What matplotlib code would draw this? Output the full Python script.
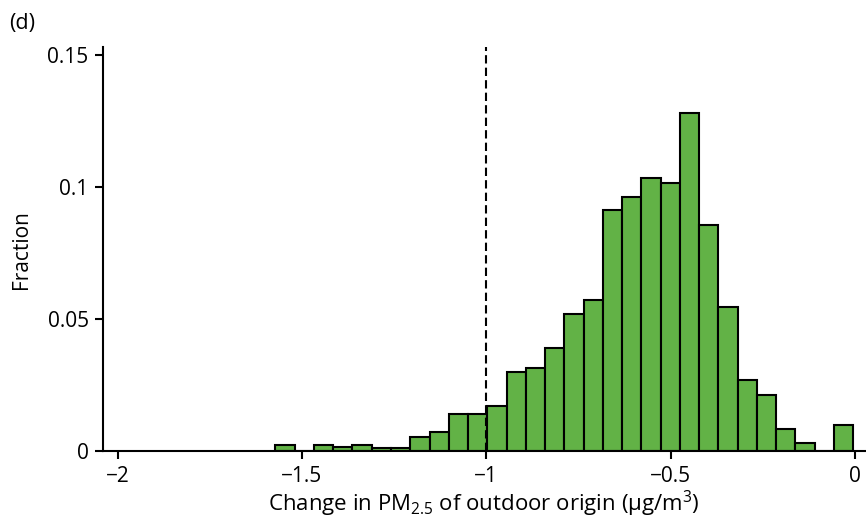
import numpy as np
import matplotlib
matplotlib.use("Agg")
import matplotlib.pyplot as plt

plt.rcParams['font.family'] = ['Open Sans', 'DejaVu Sans']
plt.rcParams['mathtext.fontset'] = 'custom'
plt.rcParams['mathtext.rm'] = 'Open Sans'
plt.rcParams['mathtext.it'] = 'Open Sans:italic'

# histogram: 30 bins between the first and last edge
bin_start = -1.572
bin_end = -0.0046
n_bins = 30
fraction = [0.0024, 0.0, 0.0024, 0.0015, 0.0024, 0.0012, 0.0012, 0.0052,
            0.0071, 0.0141, 0.0141, 0.0171, 0.0300, 0.0314, 0.0389, 0.0520,
            0.0573, 0.0915, 0.0961, 0.1034, 0.1016, 0.1280, 0.0857, 0.0545,
            0.0268, 0.0214, 0.0083, 0.0031, 0.0, 0.0098]
threshold = -1.0

xticks = [-2, -1.5, -1, -0.5, 0]
xticklabels = ['\u22122', '\u22121.5', '\u22121', '\u22120.5', '0']
yticks = [0, 0.05, 0.1, 0.15]
yticklabels = ['0', '0.05', '0.1', '0.15']

edges = np.linspace(bin_start, bin_end, n_bins + 1)

fig = plt.figure(figsize=(8.66, 5.19), dpi=100)
ax = fig.add_axes([0.1184, 0.1310, 0.8816, 0.7780])

ax.bar(edges[:-1], fraction, width=np.diff(edges), align='edge',
       color='#62b246', edgecolor='black', linewidth=1.5, zorder=2)
ax.axvline(threshold, color='black', linestyle=(0, (4, 2)), linewidth=1.5, zorder=3)

ax.set_xlim(-2.041, 0.03)
ax.set_ylim(0, 0.153)
ax.set_xticks(xticks)
ax.set_xticklabels(xticklabels)
ax.set_yticks(yticks)
ax.set_yticklabels(yticklabels)
ax.tick_params(axis='both', direction='out', length=6, width=1.5, labelsize=15)
ax.tick_params(axis='x', pad=5)
ax.tick_params(axis='y', pad=4)

for s in ['top', 'right']:
    ax.spines[s].set_visible(False)
for s in ['left', 'bottom']:
    ax.spines[s].set_linewidth(1.5)

ax.set_ylabel('Fraction', fontsize=15, labelpad=11)
ax.set_xlabel('Change in PM$_{2.5}$ of outdoor origin (\u00b5g/m$^{3}$)', fontsize=16, labelpad=1)

fig.text(0.011, 0.955, '(d)', fontsize=15.5, ha='left', va='center')

fig.savefig('out.png', dpi=100)
